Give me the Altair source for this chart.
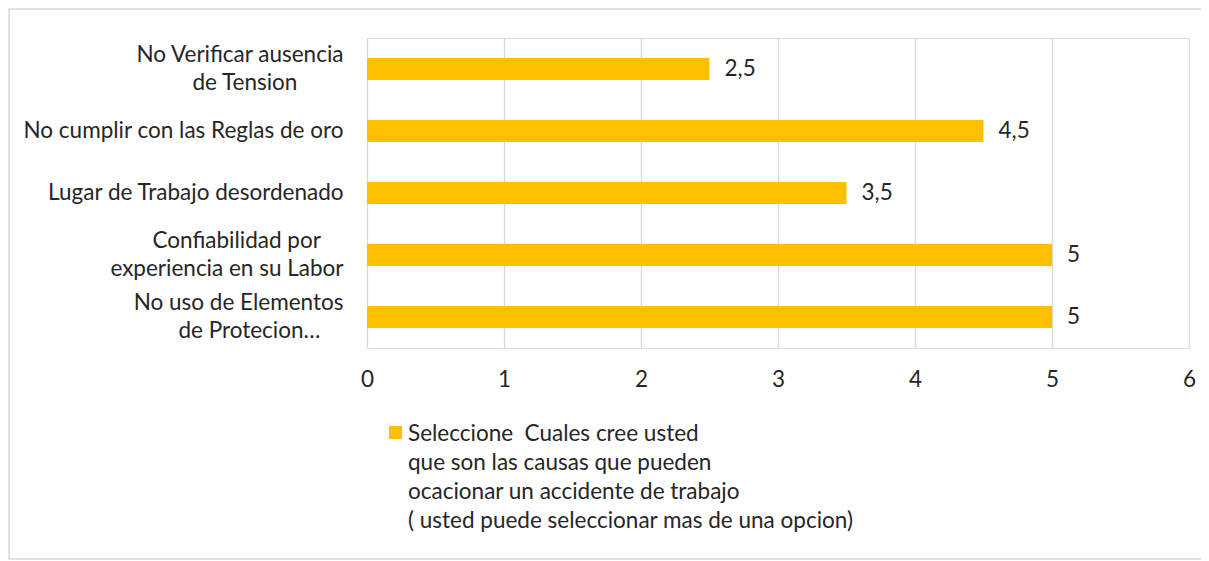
import altair as alt
import pandas as pd

# ---- data ----
categories = [
    "No Verificar ausencia\nde Tension",
    "No cumplir con las Reglas de oro",
    "Lugar de Trabajo desordenado",
    "Confiabilidad por\nexperiencia en su Labor",
    "No uso de Elementos\nde Protecion…",
]
values = [2.5, 4.5, 3.5, 5, 5]
x_ticks = [0, 1, 2, 3, 4, 5, 6]
legend_lines = [
    "Seleccione  Cuales cree usted",
    "que son las causas que pueden",
    "ocacionar un accidente de trabajo",
    "( usted puede seleccionar mas de una opcion)",
]

NBSP = "\u00a0"
ZWSP = "\u200b"


def centered(label, k=0.75):
    lines = label.split("\n")
    m = max(len(l) for l in lines)
    out = []
    for l in lines:
        n = round((m - len(l)) * k)
        out.append(l + (NBSP * n + ZWSP if n else ""))
    return "\n".join(out)


labels = [centered(c) for c in categories]
df = pd.DataFrame({
    "cat": labels,
    "value": values,
    "txt": [f"{v:g}".replace(".", ",") for v in values],
})
legend_render = [l.replace("  ", " " + NBSP) for l in legend_lines]

FONT = "Lato"
FS = 22.5
TXT = "#262626"
BAR = "#FFC000"
GRID = "#d9d9d9"
W, H = 822, 310
TOTAL_W, TOTAL_H = 1193, 553
PAD_L, PAD_T = 359, 30

y_enc = alt.Y(
    "cat:N", sort=labels, title=None,
    scale=alt.Scale(paddingInner=0, paddingOuter=0),
    axis=alt.Axis(
        labelExpr="split(datum.label, '\\n')",
        labelAlign="right", labelPadding=24, labelFontSize=FS,
        labelLineHeight=28, labelFont=FONT, labelColor=TXT,
        labelOffset={"condition": {"test": "indexof(datum.label, '\\n') >= 0",
                                   "value": -14}, "value": 0},
        labelLimit=500, domain=False, ticks=False, grid=False,
    ),
)
x_enc = alt.X(
    "value:Q", title=None,
    scale=alt.Scale(domain=[0, 6], nice=False),
    axis=alt.Axis(
        values=x_ticks, format="d", grid=True, gridColor=GRID, gridWidth=1.3,
        domain=False, ticks=False, labelPadding=20, labelFontSize=FS,
        labelFont=FONT, labelColor=TXT, labelFlush=False,
    ),
)

base = alt.Chart(df)
bars = base.mark_bar(size=22, color=BAR).encode(x=x_enc, y=y_enc)
vals = base.mark_text(
    align="left", baseline="middle", dx=15, fontSize=FS, font=FONT, color=TXT
).encode(x="value:Q", y=alt.Y("cat:N", sort=labels), text="txt:N")

one = pd.DataFrame({"a": [0]})
border = alt.Chart(one).mark_rect(
    fillOpacity=0, stroke=GRID, strokeWidth=1.5
).encode(
    x=alt.value(-358), x2=alt.value(2000), y=alt.value(-29), y2=alt.value(521)
)
leg_sym = alt.Chart(one).mark_rect(color=BAR).encode(
    x=alt.value(22), x2=alt.value(35), y=alt.value(388), y2=alt.value(401)
)
leg_txt = alt.Chart(one).mark_text(
    align="left", baseline="alphabetic", fontSize=FS, font=FONT, color=TXT,
    lineHeight=29,
).encode(x=alt.value(41), y=alt.value(403), text=alt.value(legend_render))

chart = alt.layer(border, bars, vals, leg_sym, leg_txt).properties(
    width=W, height=H,
    autosize=alt.AutoSizeParams(type="none"),
    padding={"left": PAD_L, "top": PAD_T,
             "right": TOTAL_W - PAD_L - W, "bottom": TOTAL_H - PAD_T - H},
).configure_view(stroke=None).configure(background="white")

chart.save("out.html", embed_options={"renderer": "svg", "actions": False})
